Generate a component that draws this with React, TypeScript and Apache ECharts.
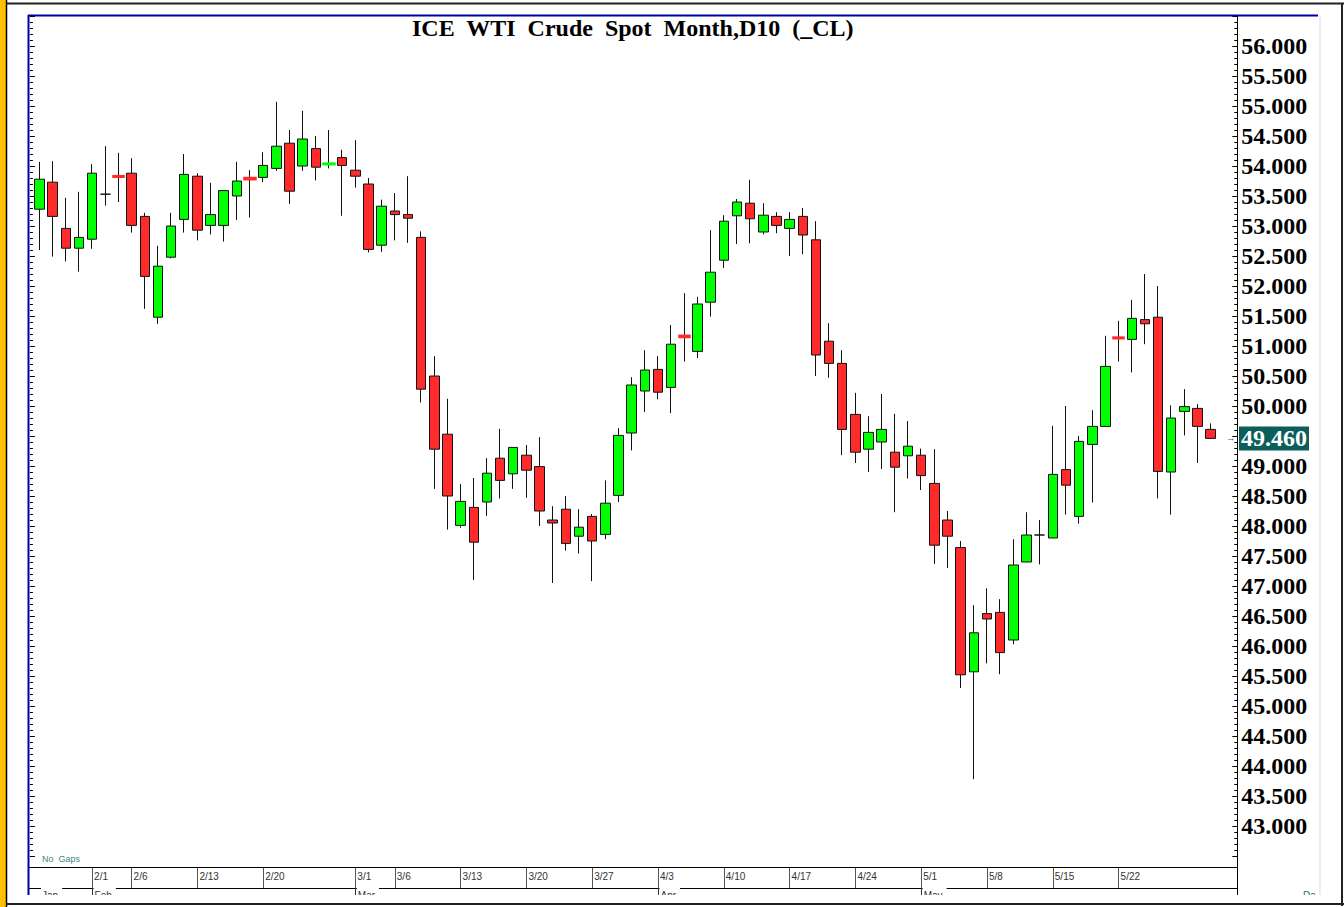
import React, { useEffect, useRef } from 'react';
import * as echarts from 'echarts';

const dates = [
  '1/26', '1/27', '1/30', '1/31',
  '2/1', '2/2', '2/3', '2/6', '2/7', '2/8', '2/9', '2/10', '2/13', '2/14', '2/15', '2/16', '2/17',
  '2/20', '2/21', '2/22', '2/23', '2/24', '2/27', '2/28',
  '3/1', '3/2', '3/3', '3/6', '3/7', '3/8', '3/9', '3/10', '3/13', '3/14', '3/15', '3/16', '3/17',
  '3/20', '3/21', '3/22', '3/23', '3/24', '3/27', '3/28', '3/29', '3/30', '3/31',
  '4/3', '4/4', '4/5', '4/6', '4/7', '4/10', '4/11', '4/12', '4/13', '4/14', '4/17', '4/18', '4/19', '4/20', '4/21',
  '4/24', '4/25', '4/26', '4/27', '4/28',
  '5/1', '5/2', '5/3', '5/4', '5/5', '5/8', '5/9', '5/10', '5/11', '5/12', '5/15', '5/16', '5/17', '5/18', '5/19',
  '5/22', '5/23', '5/24', '5/25', '5/26', '5/29', '5/30', '5/31',
];

const opens = [
  53.28, 53.73, 52.96, 52.63, 52.78, 53.53, 53.83, 53.88, 53.16, 51.48,
  52.48, 53.11, 53.83, 53.01, 53.01, 53.50, 53.80, 53.81, 53.96, 54.38,
  54.00, 54.29, 54.03, 54.14, 53.93, 53.70, 52.68, 53.25, 53.19, 52.81,
  50.50, 49.53, 48.01, 48.31, 48.40, 49.13, 48.87, 49.18, 48.99, 48.10,
  48.28, 47.83, 48.16, 47.86, 48.51, 49.55, 50.25, 50.61, 50.31, 51.17,
  50.91, 51.73, 52.43, 53.17, 53.38, 52.90, 53.16, 52.96, 53.16, 52.77,
  51.08, 50.71, 49.86, 49.28, 49.40, 49.23, 49.17, 49.18, 48.71, 48.10,
  47.64, 45.57, 46.54, 46.56, 46.10, 47.40, 47.85, 47.80, 48.94, 48.16,
  49.36, 49.66, 51.14, 51.11, 51.44, 51.48, 48.90, 49.91, 49.96, 49.61,
];
const closes = [
  53.78, 53.16, 52.63, 52.81, 53.88, 53.53, 53.82, 53.01, 52.16, 52.33,
  53.00, 53.86, 52.93, 53.19, 53.59, 53.75, 53.78, 54.01, 54.33, 53.58,
  54.45, 53.98, 54.04, 54.01, 53.83, 52.61, 53.33, 53.19, 53.13, 50.28,
  49.28, 48.50, 48.41, 47.73, 48.88, 48.76, 49.31, 48.93, 48.25, 48.05,
  47.71, 47.98, 47.75, 48.38, 49.51, 50.35, 50.60, 50.23, 51.03, 51.15,
  51.70, 52.23, 53.08, 53.40, 53.12, 53.18, 53.01, 53.11, 52.85, 50.85,
  50.71, 49.61, 49.23, 49.56, 49.61, 48.98, 49.33, 48.84, 47.68, 47.83,
  45.52, 46.22, 46.45, 45.89, 47.35, 47.85, 47.85, 48.86, 48.68, 49.41,
  49.66, 50.66, 51.13, 51.46, 51.37, 48.91, 49.80, 49.99, 49.66, 49.46,
];
const lows = [
  52.60, 52.49, 52.41, 52.24, 52.62, 53.34, 53.40, 52.89, 51.62, 51.37,
  52.46, 52.89, 52.76, 52.86, 52.74, 53.10, 53.14, 53.73, 53.92, 53.37,
  53.92, 53.76, 53.96, 53.17, 53.64, 52.56, 52.57, 52.76, 52.72, 50.06,
  48.62, 47.94, 47.97, 47.10, 48.17, 48.46, 48.62, 48.47, 48.00, 47.05,
  47.59, 47.54, 47.08, 47.78, 48.40, 49.26, 49.90, 50.11, 49.88, 50.74,
  50.80, 51.49, 52.30, 52.70, 52.71, 52.86, 52.88, 52.50, 52.53, 50.50,
  50.47, 49.18, 49.05, 48.90, 48.95, 48.23, 48.79, 48.60, 47.37, 47.30,
  45.30, 43.78, 45.71, 45.53, 46.03, 47.40, 47.36, 47.80, 48.19, 48.04,
  48.39, 49.66, 50.74, 50.56, 51.03, 48.46, 48.19, 49.51, 49.05, 49.46,
];
const highs = [
  54.07, 54.08, 53.47, 53.57, 54.03, 54.33, 54.22, 54.13, 53.22, 52.67,
  53.22, 54.20, 53.88, 53.72, 53.59, 54.07, 53.93, 54.23, 55.07, 54.60,
  54.92, 54.50, 54.60, 54.27, 54.43, 53.80, 53.44, 53.55, 53.83, 52.91,
  50.83, 50.12, 48.70, 48.80, 49.13, 49.62, 49.31, 49.35, 49.48, 48.33,
  48.50, 48.28, 48.20, 48.76, 49.63, 50.48, 50.93, 50.83, 51.35, 51.88,
  51.82, 52.93, 53.18, 53.45, 53.77, 53.38, 53.23, 53.23, 53.30, 53.08,
  51.38, 50.93, 50.22, 49.83, 50.20, 49.87, 49.75, 49.29, 49.28, 48.25,
  47.75, 46.68, 46.96, 46.78, 47.78, 48.23, 48.10, 49.67, 50.00, 49.50,
  49.93, 51.17, 51.42, 51.77, 52.20, 52.00, 50.01, 50.28, 50.03, 49.71,
];

const weekLabels = [
  '2/1', '2/6', '2/13', '2/20', '3/1', '3/6', '3/13', '3/20', '3/27',
  '4/3', '4/10', '4/17', '4/24', '5/1', '5/8', '5/15', '5/22',
];
const monthStarts = ['1/26', '2/1', '3/1', '4/3', '5/1'];
const monthNames = ['Jan', 'Feb', 'Mar', 'Apr', 'May'];

const yMin = 42.5;
const yMax = 56.5;
const yStep = 0.5;
const labelLow = 43;
const labelHigh = 56;

const chartTitle = 'ICE  WTI  Crude  Spot  Month,D10  (_CL)';

const UP = '#00FF00';
const DOWN = '#FF2A2A';

export default function App() {
  const ref = useRef<HTMLDivElement>(null);

  useEffect(() => {
    if (!ref.current) return;
    const chart = echarts.init(ref.current, undefined, { renderer: 'svg' });

    const weekSet = new Set(weekLabels);
    const monthMap: Record<string, string> = {};
    monthStarts.forEach((d, i) => (monthMap[d] = monthNames[i]));

    const data = dates.map((d, i) => [opens[i], closes[i], lows[i], highs[i]]);
    // near-doji bodies are drawn as coloured lines on top of the black-bordered candles
    const dojiData = dates.map((d, i) => {
      const o = opens[i];
      const c = closes[i];
      const diff = Math.abs(o - c);
      if (diff > 0 && diff < 0.025) return [o, c, Math.min(o, c), Math.max(o, c)];
      return '-';
    });
    const last = closes[closes.length - 1];

    const gridLeft = 32.9;
    const gridWidth = 1184.4;
    const gridTop = 16;
    const gridHeight = 840;

    const serif = "'Liberation Serif', 'Times New Roman', serif";
    const sans = "'Liberation Sans', Arial, sans-serif";

    chart.setOption({
      animation: false,
      backgroundColor: '#ffffff',
      title: {
        text: chartTitle,
        left: 407,
        top: 11,
        textStyle: { fontFamily: serif, fontWeight: 'bold', fontSize: 24, color: '#000' },
      },
      grid: { left: gridLeft, top: gridTop, width: gridWidth, height: gridHeight },
      xAxis: [
        {
          type: 'category',
          data: dates,
          position: 'bottom',
          offset: 11,
          boundaryGap: true,
          axisLine: { show: false },
          axisTick: {
            show: true,
            alignWithLabel: true,
            interval: (i: number, v: string) => weekSet.has(v),
            length: 21,
            lineStyle: { color: '#555', width: 1 },
          },
          axisLabel: {
            show: true,
            interval: (i: number, v: string) => weekSet.has(v),
            align: 'left',
            verticalAlign: 'top',
            margin: 4,
            padding: [0, 0, 0, 2],
            fontSize: 10,
            fontFamily: sans,
            color: '#333',
          },
          splitLine: { show: false },
        },
        {
          type: 'category',
          data: dates,
          position: 'bottom',
          offset: 32,
          boundaryGap: true,
          z: 10,
          axisLine: { show: false },
          axisTick: {
            show: true,
            alignWithLabel: true,
            interval: (i: number, v: string) => v in monthMap && i > 0,
            length: 8,
            lineStyle: { color: '#333', width: 1 },
          },
          axisLabel: {
            show: true,
            interval: (i: number, v: string) => v in monthMap,
            formatter: (v: string) => `{g| }{m|${monthMap[v] ?? ''}}`,
            align: 'left',
            verticalAlign: 'top',
            margin: -1,
            rich: {
              g: { width: 1.5, fontSize: 10 },
              m: {
                backgroundColor: '#fff',
                padding: [3, 4, 0, 1],
                fontSize: 10,
                fontFamily: sans,
                color: '#333',
              },
            },
          },
          splitLine: { show: false },
        },
      ],
      yAxis: [
        {
          type: 'value',
          position: 'right',
          offset: 20,
          min: yMin,
          max: yMax,
          interval: yStep,
          axisLine: { show: false },
          axisTick: { show: true, inside: true, length: 5, lineStyle: { color: '#000' } },
          minorTick: { show: true, splitNumber: 5, length: 3, lineStyle: { color: '#000' } },
          splitLine: { show: false },
          minorSplitLine: { show: false },
          axisLabel: {
            show: true,
            margin: 4,
            fontSize: 24,
            fontWeight: 'bold',
            fontFamily: serif,
            color: '#000',
            formatter: (v: number) =>
              v >= labelLow - 1e-9 && v <= labelHigh + 1e-9 ? v.toFixed(3) : '',
          },
        },
        {
          type: 'value',
          position: 'left',
          offset: 3,
          min: yMin,
          max: yMax,
          interval: yStep,
          axisLine: { show: false },
          axisTick: { show: true, inside: true, length: 5, lineStyle: { color: '#000' } },
          minorTick: { show: true, splitNumber: 5, length: 3, lineStyle: { color: '#000' } },
          splitLine: { show: false },
          axisLabel: { show: false },
        },
      ],
      series: [
        {
          type: 'candlestick',
          name: 'CL',
          xAxisIndex: 0,
          yAxisIndex: 0,
          barWidth: 10,
          data,
          itemStyle: {
            color: UP,
            color0: DOWN,
            borderColor: '#111',
            borderColor0: '#111',
            borderColorDoji: '#111',
            borderWidth: 1,
          },
          markLine: {
            silent: true,
            symbol: ['none', 'none'],
            lineStyle: { width: 0, color: 'transparent' },
            data: [{ yAxis: last }],
            label: {
              show: true,
              position: 'end',
              distance: 9,
              formatter: `{a|→}{b|${last.toFixed(3)}}`,
              rich: {
                a: { width: 12.7, fontSize: 9, color: '#0B5E5A', fontFamily: sans },
                b: {
                  backgroundColor: '#0B5E5A',
                  color: '#fff',
                  fontSize: 24,
                  fontWeight: 'bold',
                  fontFamily: serif,
                  padding: [0, 2, 0, 2],
                  lineHeight: 24,
                },
              },
            },
          },
          z: 2,
        },
        {
          type: 'candlestick',
          name: 'doji',
          xAxisIndex: 0,
          yAxisIndex: 0,
          barWidth: 11,
          data: dojiData,
          itemStyle: {
            color: UP,
            color0: DOWN,
            borderColor: UP,
            borderColor0: DOWN,
            borderWidth: 2.5,
          },
          z: 3,
        },
      ],
      graphic: [
        { type: 'rect', shape: { x: 0, y: 0, width: 6, height: 907 }, style: { fill: '#FFC000' }, z: 50 },
        { type: 'line', shape: { x1: 6.5, y1: 0, x2: 6.5, y2: 907 }, style: { stroke: '#000', lineWidth: 1.5 }, z: 50 },
        { type: 'line', shape: { x1: 6, y1: 3.5, x2: 1344, y2: 3.5 }, style: { stroke: '#222', lineWidth: 2 }, z: 50 },
        { type: 'line', shape: { x1: 1342, y1: 3, x2: 1342, y2: 906 }, style: { stroke: '#222', lineWidth: 2 }, z: 50 },
        { type: 'line', shape: { x1: 1320, y1: 15, x2: 1320, y2: 903 }, style: { stroke: '#dcdcdc', lineWidth: 1 }, z: 1 },
        { type: 'line', shape: { x1: 28, y1: 15.5, x2: 1318, y2: 15.5 }, style: { stroke: '#0000A0', lineWidth: 2 }, z: 5 },
        { type: 'line', shape: { x1: 28.5, y1: 15, x2: 28.5, y2: 896 }, style: { stroke: '#0000A0', lineWidth: 2 }, z: 5 },
        { type: 'line', shape: { x1: 1237.5, y1: 16, x2: 1237.5, y2: 896 }, style: { stroke: '#000', lineWidth: 1 }, z: 5 },
        { type: 'line', shape: { x1: 29, y1: 867.5, x2: 1237, y2: 867.5 }, style: { stroke: '#000', lineWidth: 1 }, z: 1 },
        { type: 'line', shape: { x1: 29, y1: 888.5, x2: 1237, y2: 888.5 }, style: { stroke: '#000', lineWidth: 1 }, z: 1 },
        {
          type: 'text',
          x: 42,
          y: 854,
          style: { text: 'No  Gaps', fontSize: 9, fontFamily: sans, fill: '#3A8A8A' },
          z: 5,
        },
        {
          type: 'text',
          x: 1303,
          y: 890,
          style: { text: 'Da', fontSize: 10, fontFamily: sans, fill: '#2F7070' },
          z: 5,
        },
        { type: 'rect', shape: { x: 8, y: 895, width: 1332, height: 8 }, style: { fill: '#fff' }, z: 100 },
        { type: 'line', shape: { x1: 6, y1: 904, x2: 1344, y2: 904 }, style: { stroke: '#222', lineWidth: 2 }, z: 101 },
      ],
    });

    return () => chart.dispose();
  }, []);

  return (
    <div
      ref={ref}
      style={{ position: 'absolute', left: 0, top: 0, width: 1344, height: 907, background: '#fff' }}
    />
  );
}
